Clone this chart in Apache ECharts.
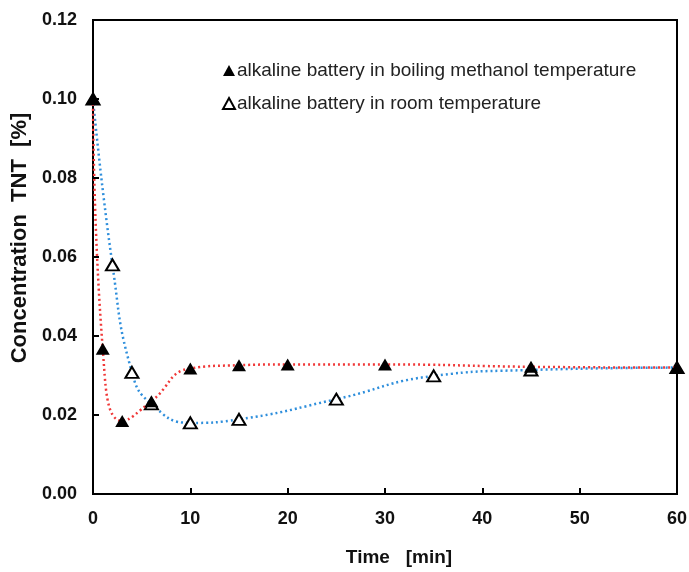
<!DOCTYPE html>
<html><head><meta charset="utf-8">
<script src="https://cdn.jsdelivr.net/npm/echarts@6/dist/echarts.min.js"></script>
<style>html,body{margin:0;padding:0;background:#fff}#c{width:689px;height:572px}</style>
</head><body><div id="c"></div>
<script>
const boilTime = [0, 1, 3, 6, 10, 15, 20, 30, 45, 60];
const boilConc = [0.100, 0.0368, 0.0185, 0.0235, 0.0318, 0.0326, 0.0328, 0.0328, 0.0322, 0.0320];
const roomTime = [0, 2, 4, 6, 10, 15, 25, 35, 45, 60];
const roomConc = [0.100, 0.0580, 0.0308, 0.0228, 0.0180, 0.0189, 0.0240, 0.0299, 0.0314, 0.0320];
const boilName = 'alkaline battery in boiling methanol temperature';
const roomName = 'alkaline battery in room temperature';
const xTicks = [0, 10, 20, 30, 40, 50, 60];
const yTicks = [0, 0.02, 0.04, 0.06, 0.08, 0.10, 0.12];

const pair = (xs, ys) => xs.map((x, i) => [x, ys[i]]);
const font = 'Liberation Sans, Arial, sans-serif';
const chart = echarts.init(document.getElementById('c'));
chart.setOption({
  animation: false,
  grid: {left: 93, right: 12, top: 20, bottom: 78, containLabel: false, outerBoundsMode: 'none',
    show: true, borderColor: '#000', borderWidth: 2, backgroundColor: 'transparent'},
  legend: {
    orient: 'vertical', left: 217, top: 56, itemGap: 14, itemWidth: 12, itemHeight: 11,
    textStyle: {fontFamily: font, fontSize: 19, color: '#222', padding: [0, 0, 0, -3]},
    data: [{name: boilName, icon: 'triangle'}, {name: roomName, icon: 'triangle'}]
  },
  xAxis: {
    type: 'value', min: xTicks[0], max: xTicks[xTicks.length - 1], interval: 10,
    name: 'Time   [min]', nameLocation: 'middle', nameGap: 54,
    nameTextStyle: {fontFamily: font, fontSize: 19, fontWeight: 'bold', color: '#111', padding: [0, 0, 0, 28]},
    axisLine: {lineStyle: {color: '#000', width: 2}},
    axisTick: {inside: true, length: 6, lineStyle: {color: '#000', width: 2}},
    axisLabel: {fontFamily: font, fontSize: 18, fontWeight: 'bold', color: '#111', margin: 16},
    splitLine: {show: false}
  },
  yAxis: {
    type: 'value', min: yTicks[0], max: yTicks[yTicks.length - 1], interval: 0.02,
    name: 'Concentration  TNT  [%]', nameLocation: 'middle', nameGap: 61,
    nameTextStyle: {fontFamily: font, fontSize: 22, fontWeight: 'bold', color: '#111', padding: [0, 0, 0, 38]},
    axisLine: {lineStyle: {color: '#000', width: 2}},
    axisTick: {inside: true, length: 6, lineStyle: {color: '#000', width: 2}},
    axisLabel: {fontFamily: font, fontSize: 18, fontWeight: 'bold', color: '#111', margin: 16,
      formatter: v => v.toFixed(2)},
    splitLine: {show: false}
  },
  series: [
    {
      name: roomName, type: 'line', smooth: 0.5, data: pair(roomTime, roomConc),
      symbol: 'triangle', symbolSize: [13, 11],
      itemStyle: {color: '#fff', borderColor: '#000', borderWidth: 2},
      lineStyle: {color: '#2f8fdc', width: 2.5, type: [2, 3]}, z: 2
    },
    {
      name: boilName, type: 'line', smooth: 0.5, data: pair(boilTime, boilConc),
      symbol: 'triangle', symbolSize: [14, 12],
      itemStyle: {color: '#000', borderColor: '#000', borderWidth: 0},
      lineStyle: {color: '#f03838', width: 2.5, type: [2, 3]}, z: 3
    }
  ]
});
</script></body></html>
